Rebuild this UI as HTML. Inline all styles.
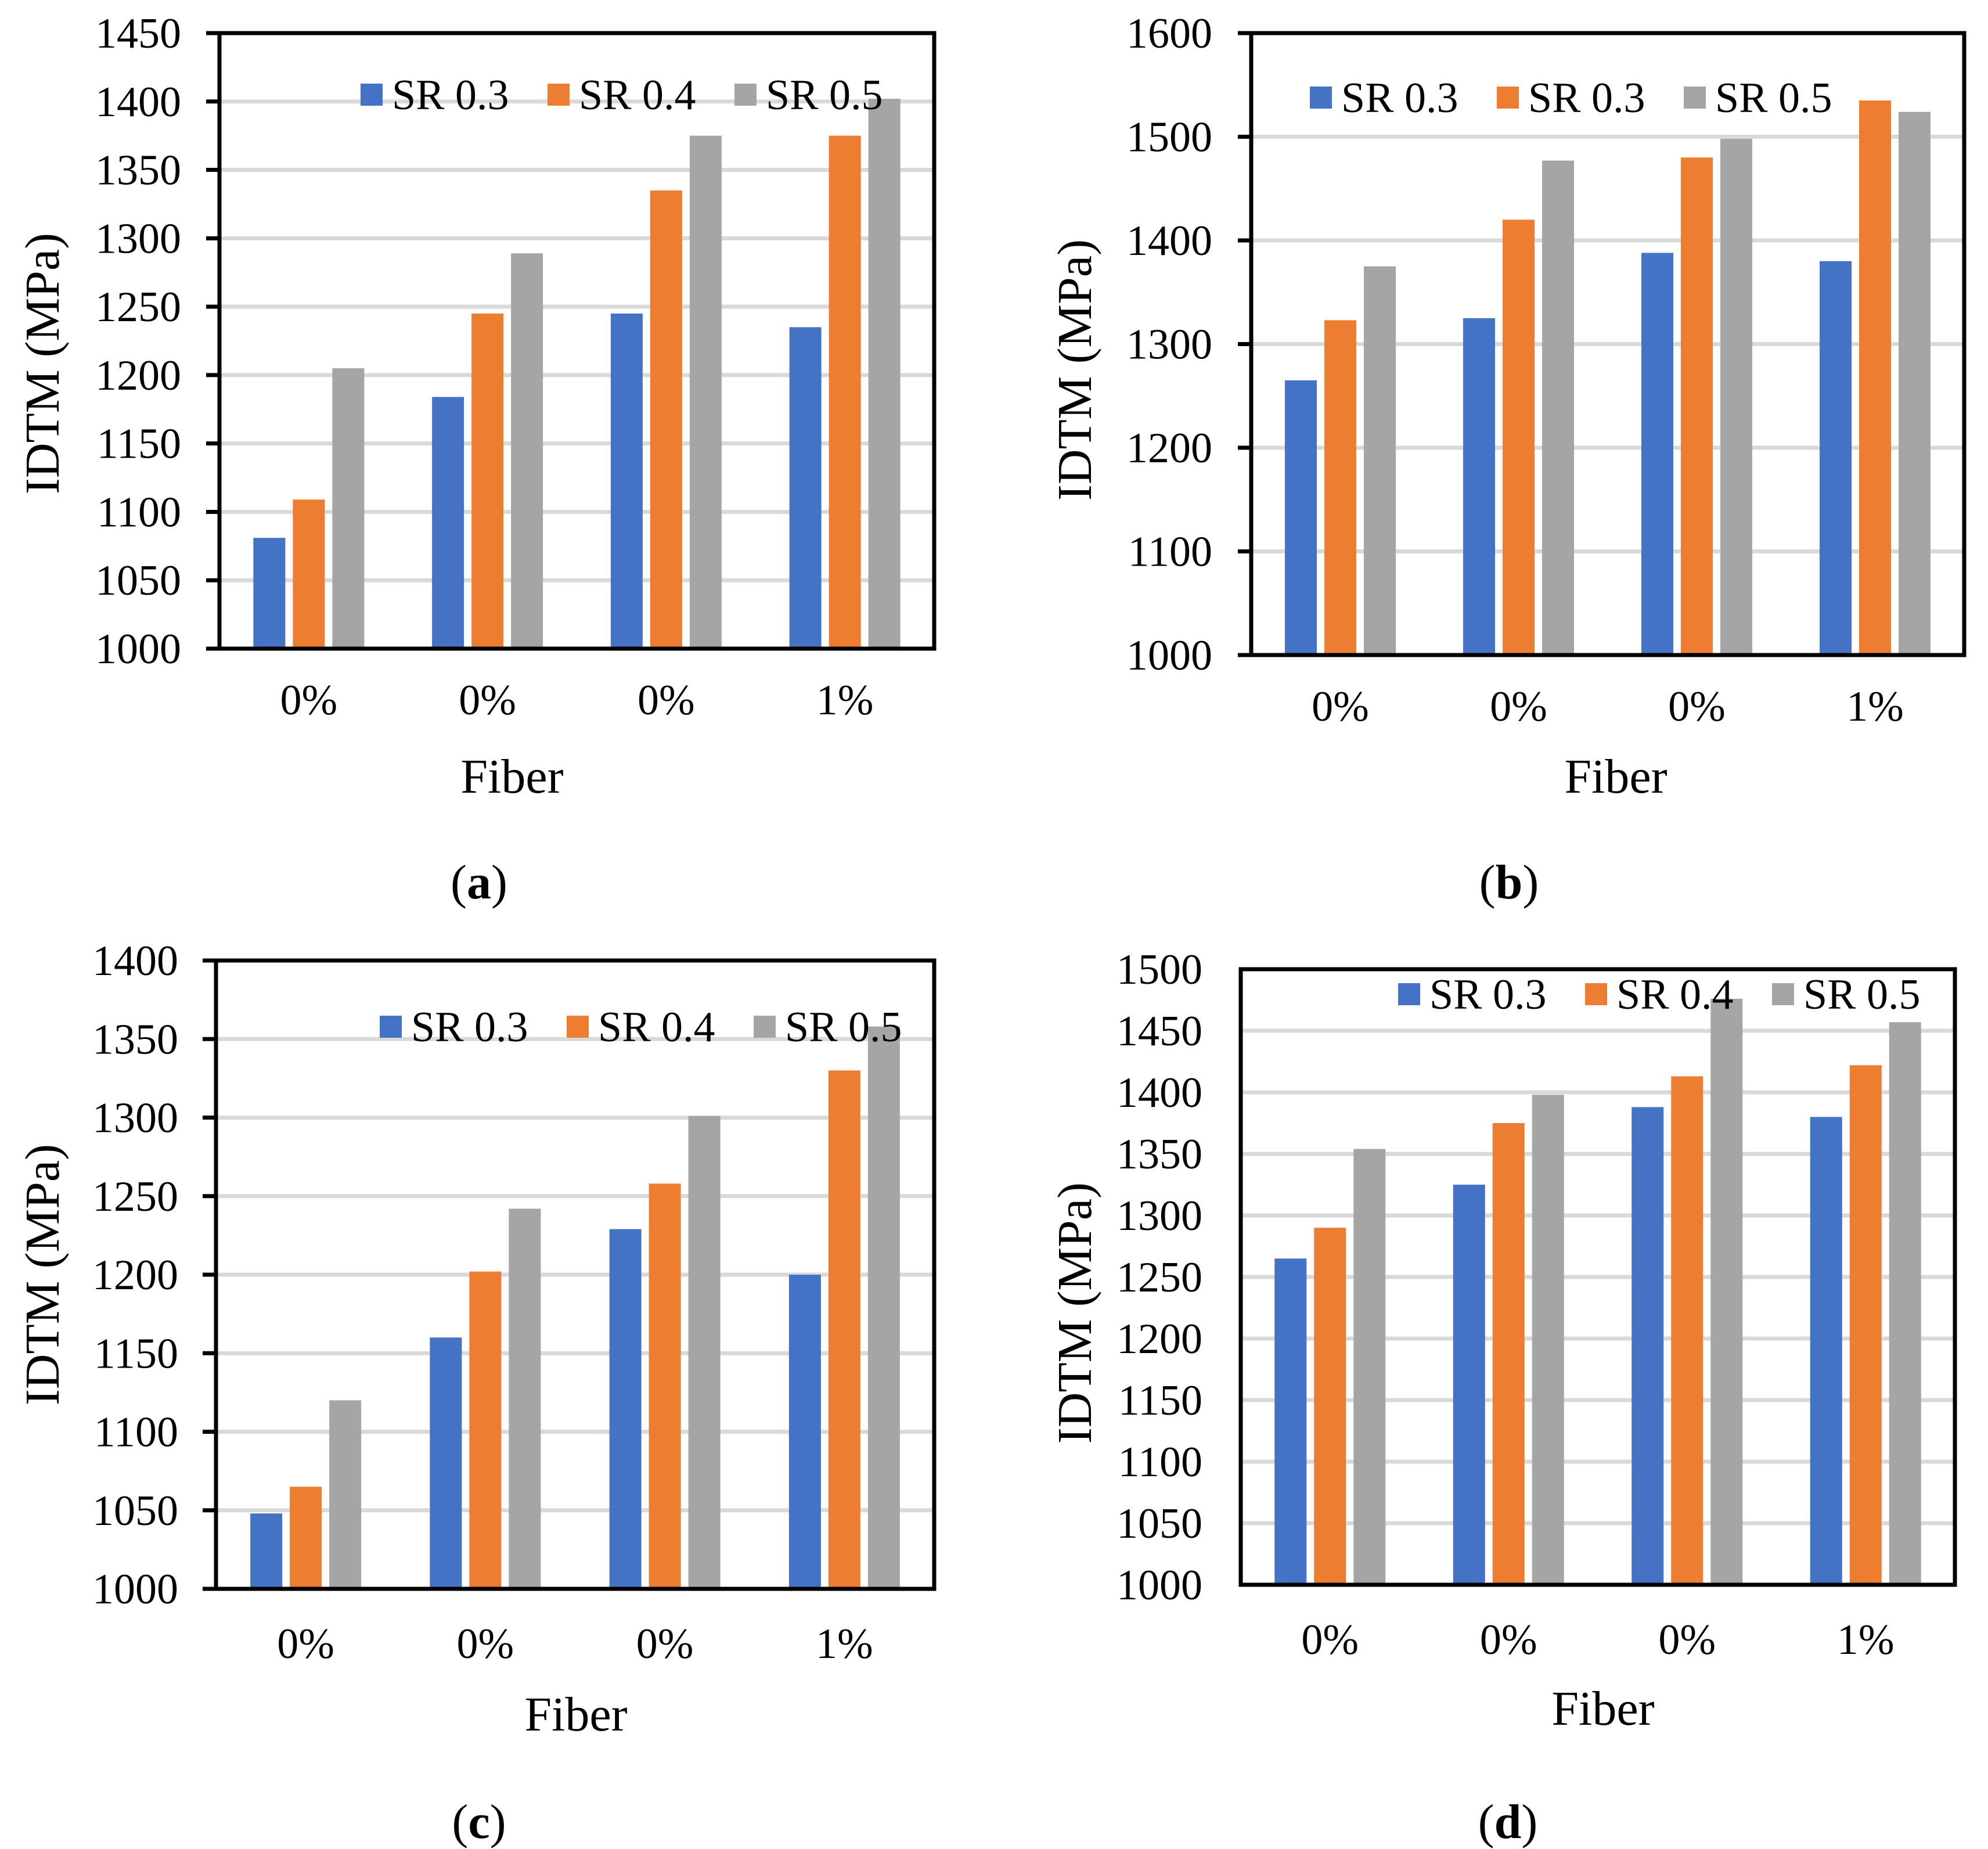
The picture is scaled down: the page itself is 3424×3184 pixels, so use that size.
<!DOCTYPE html>
<html><head><meta charset="utf-8">
<style>
html,body{margin:0;padding:0;background:#fff;}
svg{display:block;font-family:"Liberation Serif",serif;}
</style></head>
<body>
<svg id="fig" width="3424" height="3184" viewBox="0 0 3424 3184" xmlns="http://www.w3.org/2000/svg"></svg>
<script>
const categories = ["0%","0%","0%","1%"];
const seriesNamesA = ["SR 0.3","SR 0.4","SR 0.5"];
const seriesNamesB = ["SR 0.3","SR 0.3","SR 0.5"];
const aBlue = [1081,1184,1245,1235];
const aOrange = [1109,1245,1335,1375];
const aGray = [1205,1289,1375,1402];
const bBlue = [1265,1325,1388,1380];
const bOrange = [1323,1420,1480,1535];
const bGray = [1375,1477,1498,1524];
const cBlue = [1048,1160,1229,1200];
const cOrange = [1065,1202,1258,1330];
const cGray = [1120,1242,1301,1358];
const dBlue = [1265,1325,1388,1380];
const dOrange = [1290,1375,1413,1422];
const dGray = [1354,1398,1476,1457];
const ticksA = [1000,1050,1100,1150,1200,1250,1300,1350,1400,1450];
const ticksB = [1000,1100,1200,1300,1400,1500,1600];
const ticksC = [1000,1050,1100,1150,1200,1250,1300,1350,1400];
const ticksD = [1000,1050,1100,1150,1200,1250,1300,1350,1400,1450,1500];

const colors = ["#4472c4","#ed7d31","#a5a5a5"];
const NS = "http://www.w3.org/2000/svg";
const svg = document.getElementById("fig");
function mk(tag, attrs, parent, text){
  const e = document.createElementNS(NS, tag);
  for (const k in attrs) e.setAttribute(k, attrs[k]);
  if (text !== undefined) e.textContent = text;
  (parent||svg).appendChild(e);
  return e;
}
function panel(p){
  const g = mk("g", {});
  
  
  const ymin = p.ticks[0], ymax = p.ticks[p.ticks.length-1];
  const yS = v => p.bottom - (v - ymin) / (ymax - ymin) * (p.bottom - p.top);
  const catW = (p.right - p.left) / categories.length;
  const xC = i => p.left + catW * (i + 0.5);
  // gridlines + tick labels
  p.ticks.forEach(t => {
    const y = yS(t);
    if (t !== ymin && t !== ymax) {
      const gl = mk("line", {x1:p.left, x2:p.right, y1:y, y2:y, stroke:"#d9d9d9", "stroke-width":7}, g);
      
      
    }
    if (p.tickMarks) {
      const tm = mk("line", {x1:p.left-23, x2:p.left, y1:y, y2:y, stroke:"#000", "stroke-width":7}, g);
      
      
    }
    const tl = mk("text", {x:p.labelRight, y:y+25, "text-anchor":"end", "font-size":74}, g, String(t));
    
    
  });
  // bars
  const series = [p.blue, p.orange, p.gray];
  series.forEach((vals, s) => {
    vals.forEach((v, i) => {
      const x = xC(i) + (s - 1) * 68 - 27.5;
      const y = yS(v);
      const r = mk("rect", {x:x, y:y, width:55, height:p.bottom - y, fill:colors[s]}, g);
      
      
    });
  });
  // frame
  const fr = mk("rect", {x:p.left, y:p.top, width:p.right-p.left, height:p.bottom-p.top, fill:"none", stroke:"#000", "stroke-width":7}, g);
  
  
  // category labels
  categories.forEach((c, i) => {
    const t = mk("text", {x:xC(i), y:p.catY, "text-anchor":"middle", "font-size":74}, g, c);
    
    
  });
  // legend
  p.names.forEach((n, s) => {
    const lx = p.legX + s * 322;
    const sq = mk("rect", {x:lx, y:p.legY - 19, width:38, height:38, fill:colors[s]}, g);
    
    
    const lt = mk("text", {x:lx + 54, y:p.legY + 25, "font-size":74}, g, n);
    
    
  });
  // axis titles
  const xt = mk("text", {x:p.fiberX, y:p.fiberY, "text-anchor":"middle", "font-size":84}, g, "Fiber");
  
  
  const yt = mk("text", {x:0, y:0, "text-anchor":"middle", "font-size":84, transform:"translate(" + (p.yTitleX + 29) + "," + p.yTitleY + ") rotate(-90)"}, g, "IDTM (MPa)");
  
  
  const cap = mk("text", {x:p.capX, y:p.capY, "text-anchor":"middle", "font-size":84}, g);
  
  
  mk("tspan", {}, cap, "(");
  mk("tspan", {"font-weight":"bold"}, cap, p.id);
  mk("tspan", {}, cap, ")");
}
panel({id:"a", left:378, right:1609, top:57, bottom:1117, ticks:ticksA, blue:aBlue, orange:aOrange, gray:aGray,
  names:seriesNamesA, labelRight:312, tickMarks:true, catY:1230, legX:621, legY:163,
  fiberX:882, fiberY:1365, yTitleX:72, yTitleY:626, capX:825, capY:1547});
panel({id:"b", left:2155, right:3383, top:57, bottom:1128, ticks:ticksB, blue:bBlue, orange:bOrange, gray:bGray,
  names:seriesNamesB, labelRight:2088, tickMarks:true, catY:1241, legX:2256, legY:168,
  fiberX:2783, fiberY:1365, yTitleX:1850, yTitleY:637, capX:2599, capY:1547});
panel({id:"c", left:372, right:1609, top:1654, bottom:2736, ticks:ticksC, blue:cBlue, orange:cOrange, gray:cGray,
  names:seriesNamesA, labelRight:307, tickMarks:true, catY:2855, legX:654, legY:1768,
  fiberX:992, fiberY:2980, yTitleX:72, yTitleY:2195, capX:825, capY:3165});
panel({id:"d", left:2137, right:3367, top:1669, bottom:2729, ticks:ticksD, blue:dBlue, orange:dOrange, gray:dGray,
  names:seriesNamesA, labelRight:2071, tickMarks:false, catY:2848, legX:2408, legY:1712,
  fiberX:2761, fiberY:2970, yTitleX:1850, yTitleY:2261, capX:2597, capY:3165});
</script>
</body></html>
